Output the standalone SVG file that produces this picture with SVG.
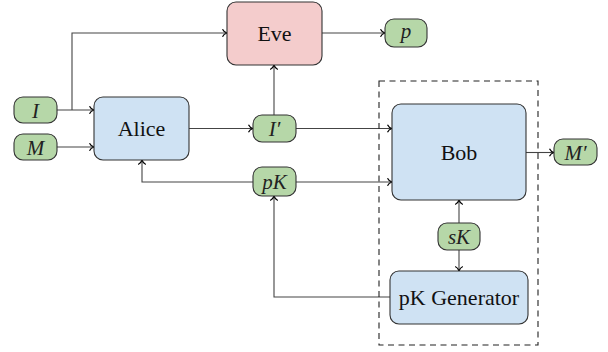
<svg xmlns="http://www.w3.org/2000/svg" width="608" height="352" viewBox="0 0 608 352">
<style>
.big{stroke:#333;stroke-width:1.1}
.blue{fill:#cfe2f3}
.pink{fill:#f4cccc}
.green{fill:#b6d7a8;stroke:#333;stroke-width:1.1}
.c{fill:none;stroke:#444;stroke-width:1.1}
.a{marker-end:url(#arr)}
</style>
<defs>
<marker id="arr" markerUnits="userSpaceOnUse" markerWidth="12" markerHeight="12" viewBox="-6 -6 12 12" refX="0" refY="0" orient="auto">
<path d="M-4.5,-3.8 C-3.5,-1.6 -1.5,-0.5 0,0 C-1.5,0.5 -3.5,1.6 -4.5,3.8" fill="none" stroke="#000" stroke-width="1.2"/>
</marker>
</defs>
<g id="connectors">
<path class="c a" d="M57,110 H94"/>
<path class="c a" d="M72,110 V33 H227"/>
<path class="c a" d="M57,147 H94"/>
<path class="c a" d="M189,128.5 H253"/>
<path class="c a" d="M274,115 V65"/>
<path class="c a" d="M296,128.5 H392"/>
<path class="c a" d="M322,33 H385"/>
<path class="c a" d="M526,152.5 H554"/>
<path class="c a" d="M253,182 H142 V160"/>
<path class="c a" d="M296,182 H392"/>
<path class="c a" d="M390,297 H274 V196"/>
<path class="c a" d="M459,223 V200"/>
<path class="c a" d="M459,250 V271"/>
</g>
<g id="bob-boundary">
<rect x="379" y="81" width="159" height="264" fill="none" stroke="#222" stroke-width="1.1" stroke-dasharray="6,4.5"/>
</g>
<g id="eve"><rect class="big pink" x="227" y="2" width="95" height="63" rx="9"/><text font-family="Liberation Serif" font-size="22" fill="#111" text-anchor="middle" x="274.5" y="41">Eve</text></g>
<g id="alice"><rect class="big blue" x="94" y="97" width="95" height="63" rx="9"/><text font-family="Liberation Serif" font-size="22" fill="#111" text-anchor="middle" x="141.5" y="136">Alice</text></g>
<g id="bob"><rect class="big blue" x="392" y="104" width="134" height="96" rx="9"/><text font-family="Liberation Serif" font-size="22" fill="#111" text-anchor="middle" x="459" y="160">Bob</text></g>
<g id="pkgen"><rect class="big blue" x="390" y="271" width="138" height="53" rx="9"/><text font-family="Liberation Serif" font-size="22" fill="#111" text-anchor="middle" x="459" y="305">pK Generator</text></g>
<g id="I"><rect class="green" x="14" y="97" width="43" height="26" rx="9"/><text font-family="Liberation Serif" font-size="21" font-style="italic" fill="#222" text-anchor="middle" x="35.5" y="117.5">I</text></g>
<g id="M"><rect class="green" x="14" y="134" width="43" height="26" rx="9"/><text font-family="Liberation Serif" font-size="21" font-style="italic" fill="#222" text-anchor="middle" x="35.5" y="154.5">M</text></g>
<g id="Iprime"><rect class="green" x="253" y="115" width="43" height="27" rx="9"/><text font-family="Liberation Serif" font-size="21" font-style="italic" fill="#222" text-anchor="middle" x="274.5" y="136">I′</text></g>
<g id="p"><rect class="green" x="385" y="19" width="42" height="28" rx="9"/><text font-family="Liberation Serif" font-size="21" font-style="italic" fill="#222" text-anchor="middle" x="406" y="38">p</text></g>
<g id="pK"><rect class="green" x="253" y="167" width="43" height="29" rx="9"/><text font-family="Liberation Serif" font-size="21" font-style="italic" fill="#222" text-anchor="middle" x="274.5" y="189">pK</text></g>
<g id="sK"><rect class="green" x="438" y="223" width="42" height="27" rx="9"/><text font-family="Liberation Serif" font-size="21" font-style="italic" fill="#222" text-anchor="middle" x="459" y="244">sK</text></g>
<g id="Mprime"><rect class="green" x="554" y="139" width="43" height="26" rx="9"/><text font-family="Liberation Serif" font-size="21" font-style="italic" fill="#222" text-anchor="middle" x="575.5" y="159.5">M′</text></g>
</svg>
